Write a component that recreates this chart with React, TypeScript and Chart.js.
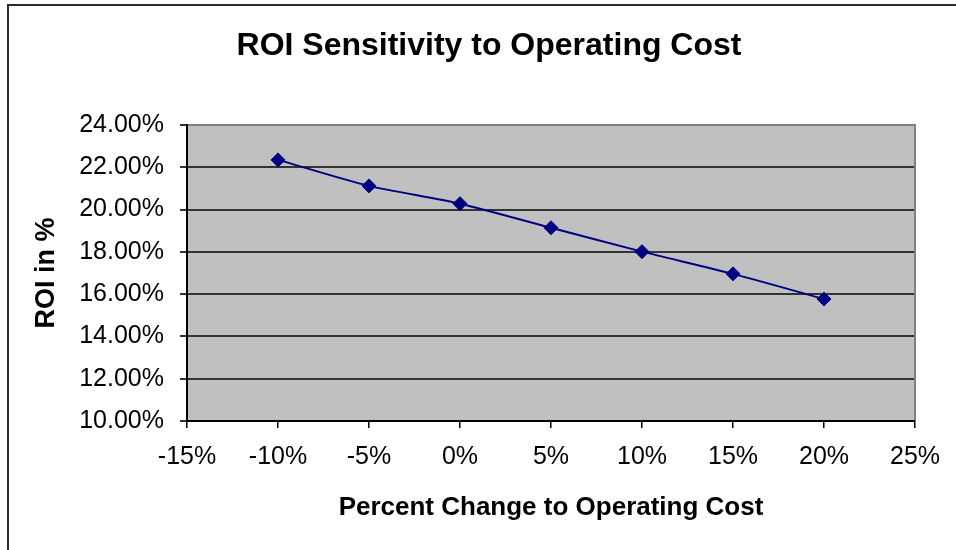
import React, { useEffect, useRef } from "react";
import { Chart, registerables } from "chart.js";

Chart.register(...registerables);

// ---- data ----
const costChange: number[] = [-0.1, -0.05, 0, 0.05, 0.1, 0.15, 0.2];
const roiValues: number[] = [0.2235, 0.2112, 0.2028, 0.1914, 0.1801, 0.1696, 0.1577];
const xRange: number[] = [-0.15, 0.25];
const yRange: number[] = [0.1, 0.24];
const chartTitle = "ROI Sensitivity to Operating Cost";
const xTitle = "Percent Change to Operating Cost";
const yTitle = "ROI in %";

const FONT = "'Liberation Sans', Arial, Helvetica, sans-serif";

const decor = {
  id: "decor",
  beforeDraw(chart: any) {
    const { ctx, chartArea: a, width, height } = chart;
    ctx.save();
    ctx.fillStyle = "#ffffff";
    ctx.fillRect(0, 0, width, height);
    ctx.strokeStyle = "#2b2b2b";
    ctx.lineWidth = 2;
    ctx.strokeRect(8, 5, width + 20, height + 20);
    ctx.fillStyle = "#c0c0c0";
    ctx.fillRect(a.left, a.top, a.right - a.left, a.bottom - a.top);
    ctx.restore();
  },
  beforeDatasetsDraw(chart: any) {
    const { ctx, chartArea: a } = chart;
    ctx.save();
    ctx.strokeStyle = "#808080";
    ctx.lineWidth = 2;
    ctx.beginPath();
    ctx.moveTo(a.left + 1, a.top);
    ctx.lineTo(a.right, a.top);
    ctx.lineTo(a.right, a.bottom - 1);
    ctx.stroke();
    ctx.restore();
  },
};

export default function App() {
  const ref = useRef<HTMLCanvasElement | null>(null);

  useEffect(() => {
    if (!ref.current) return;
    const chart = new Chart(ref.current, {
      type: "line",
      data: {
        datasets: [
          {
            label: "ROI",
            data: costChange.map((x, i) => ({ x, y: roiValues[i] })),
            xAxisID: "x",
            yAxisID: "y",
            borderColor: "#000080",
            backgroundColor: "#000080",
            borderWidth: 2,
            pointStyle: "rectRot",
            pointRadius: 7,
            pointBorderWidth: 1,
            pointBorderColor: "#000080",
            pointBackgroundColor: "#000080",
            tension: 0.25,
            fill: false,
          },
        ],
      },
      options: {
        responsive: false,
        animation: false,
        layout: { padding: { left: 22, right: 0, top: 0, bottom: 0 } },
        plugins: {
          legend: { display: false },
          tooltip: { enabled: false },
          title: {
            display: true,
            text: chartTitle,
            color: "#000",
            font: { family: FONT, size: 32, weight: "bold" },
            padding: { top: 27, bottom: 59.6 },
          },
        },
        scales: {
          x: {
            type: "linear",
            min: xRange[0],
            max: xRange[1],
            afterFit: (s: any) => {
              s.height = 129;
            },
            ticks: {
              stepSize: 0.05,
              color: "#000",
              padding: 14,
              font: { family: FONT, size: 25 },
              callback: (v: any) => Math.round(Number(v) * 100) + "%",
              maxRotation: 0,
              autoSkip: false,
            },
            grid: {
              display: true,
              drawOnChartArea: false,
              drawTicks: true,
              tickLength: 7,
              color: "#000",
              lineWidth: 1.5,
            },
            border: { display: true, color: "#000", width: 2 },
            title: {
              display: true,
              text: xTitle,
              color: "#000",
              font: { family: FONT, size: 26, weight: "bold" },
              padding: { top: 0, bottom: 26.4 },
            },
          },
          y: {
            type: "linear",
            position: "left",
            min: yRange[0],
            max: yRange[1],
            afterFit: (s: any) => {
              s.width = 165;
            },
            ticks: {
              stepSize: 0.02,
              color: "#000",
              padding: 16,
              font: { family: FONT, size: 25 },
              callback: (v: any) => (Number(v) * 100).toFixed(2) + "%",
            },
            grid: {
              display: true,
              drawTicks: true,
              tickLength: 7,
              color: "#333",
              lineWidth: 2,
            },
            border: { display: true, color: "#000", width: 2 },
            title: {
              display: true,
              text: yTitle,
              color: "#000",
              font: { family: FONT, size: 27, weight: "bold" },
              padding: { top: 8, bottom: 0 },
            },
          },
          yRight: {
            type: "linear",
            position: "right",
            display: true,
            min: yRange[0],
            max: yRange[1],
            afterFit: (s: any) => {
              s.width = 41;
            },
            ticks: { display: false },
            grid: { display: false, drawTicks: false },
            border: { display: false },
            title: { display: false },
          },
        },
      },
      plugins: [decor],
    });
    return () => chart.destroy();
  }, []);

  return (
    <div style={{ position: "absolute", left: 0, top: 0, width: 956, height: 550 }}>
      <canvas ref={ref} width={956} height={550} />
    </div>
  );
}
